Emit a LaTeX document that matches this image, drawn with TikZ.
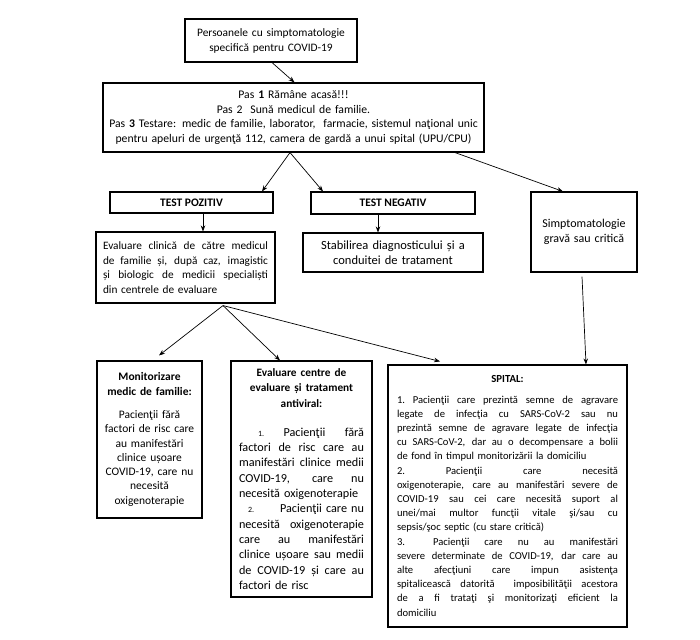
\documentclass[tikz,border=0pt]{standalone}
\usepackage{fontspec}
\setmainfont{Carlito}
\usetikzlibrary{arrows.meta}
\newcommand{\jl}[2]{\leavevmode\hbox to #1{\spaceskip=0.15em plus 1fil\xspaceskip=0.15em plus 1fil\relax #2}}
\tikzset{
  box/.style={draw, line width=1.1pt, inner sep=0pt, align=center},
  lbox/.style={draw, line width=1.1pt, inner sep=0pt, align=left},
  arr/.style={-{Stealth[length=6pt,width=4.5pt]}, line width=0.7pt},
}
\begin{document}
\begin{tikzpicture}[x=1pt,y=-1pt]
\useasboundingbox (0,0) rectangle (700,639);
\fill[white] (0,0) rectangle (700,639);

\node[box, minimum width=172pt, minimum height=43pt, text width=172pt,
  font=\fontsize{11.4}{15}\selectfont] (b1) at (271,40.5)
  {Persoanele cu simptomatologie\\specifică pentru COVID-19};

\node[box, minimum width=381pt, minimum height=69pt, text width=381pt,
  font=\fontsize{11.7}{14.8}\selectfont] (b2) at (293.5,117.5)
  {Pas \textbf{1} Rămâne acasă!!!\\Pas 2\ \ Sună medicul de familie.\\Pas \textbf{3} Testare: medic de familie, laborator,\ \ farmacie, sistemul naţional unic\\pentru apeluri de urgenţă 112, camera de gardă a unui spital (UPU/CPU)};

\node[box, minimum width=163pt, minimum height=21pt,
  font=\bfseries\fontsize{11.5}{12}\selectfont] (tp) at (191.5,202.5) {TEST POZITIV};
\node[box, minimum width=164pt, minimum height=22pt,
  font=\bfseries\fontsize{11.5}{12}\selectfont] (tn) at (393,203) {TEST NEGATIV};

\node[box, minimum width=106pt, minimum height=80pt, text width=106pt,
  font=\fontsize{12}{15}\selectfont] (sim) at (584,232)
  {Simptomatologie\\gravă sau critică};

\node[lbox, minimum width=179pt, minimum height=71pt, text width=165pt,
  font=\fontsize{11.3}{14.5}\selectfont] (ec) at (185.5,267.5)
  {\jl{165pt}{Evaluare clinică de către medicul}\\
   \jl{165pt}{de familie și, după caz, imagistic}\\
   \jl{165pt}{și biologic de medicii specialiști}\\
   din centrele de evaluare};

\node[box, minimum width=180pt, minimum height=39pt, text width=180pt,
  font=\fontsize{12.5}{14.5}\selectfont] (st) at (393,252.5)
  {Stabilirea diagnosticului și a\\conduitei de tratament};

\node[box, minimum width=105pt, minimum height=157pt, text width=105pt,
  font=\fontsize{11.5}{14.3}\selectfont] (mon) at (149.5,439.5)
  {\textbf{Monitorizare}\\\textbf{medic de familie:}\\[9pt]
   Pacienţii fără\\factori de risc care\\au manifestări\\clinice ușoare\\COVID-19, care nu\\necesită\\oxigenoterapie};

\node[lbox, minimum width=141pt, minimum height=236pt, text width=125pt,
  font=\fontsize{12.2}{15.3}\selectfont] (evc) at (301.5,479)
  {\makebox[125pt]{\bfseries\fontsize{11.3}{15.3}\selectfont Evaluare centre de}\\
   \makebox[125pt]{\bfseries\fontsize{11.3}{15.3}\selectfont evaluare și tratament}\\
   \makebox[125pt]{\bfseries\fontsize{11.3}{15.3}\selectfont antiviral:}\\[14pt]
   \leavevmode\hbox to 125pt{\hspace{19pt}{\footnotesize 1.}\hfill Pacienţii\hfill fără}\\
   \jl{125pt}{factori de risc care au}\\
   \jl{125pt}{manifestări clinice medii}\\
   \jl{125pt}{COVID-19, care nu}\\
   necesită oxigenoterapie\\
   \leavevmode\hbox to 125pt{\hspace{9pt}{\footnotesize 2.}\hfill Pacienţii care nu}\\
   \jl{125pt}{necesită oxigenoterapie}\\
   \jl{125pt}{care au manifestări}\\
   \jl{125pt}{clinice ușoare sau medii}\\
   \jl{125pt}{de COVID-19 și care au}\\
   factori de risc};

\node[lbox, minimum width=239pt, minimum height=262pt, text width=221pt,
  font=\fontsize{10.6}{14.2}\selectfont] (sp) at (507.5,496)
  {\makebox[221pt]{\bfseries\fontsize{10.8}{14.2}\selectfont SPITAL:}\\[6pt]
   \jl{221pt}{1. Pacienţii care prezintă semne de agravare}\\
   \jl{221pt}{legate de infecţia cu SARS-CoV-2 sau nu}\\
   \jl{221pt}{prezintă semne de agravare legate de infecţia}\\
   \jl{221pt}{cu SARS-CoV-2, dar au o decompensare a bolii}\\
   de fond în timpul monitorizării la domiciliu\\
   \jl{221pt}{2. Pacienţii care necesită}\\
   \jl{221pt}{oxigenoterapie, care au manifestări severe de}\\
   \jl{221pt}{COVID-19 sau cei care necesită suport al}\\
   \jl{221pt}{unei/mai multor funcţii vitale şi/sau cu}\\
   sepsis/şoc septic (cu stare critică)\\
   \jl{221pt}{3.\hspace{28pt}Pacienţii care nu au manifestări}\\
   \jl{221pt}{severe determinate de COVID-19, dar care au}\\
   \jl{221pt}{alte afecţiuni care impun asistenţa}\\
   \jl{221pt}{spitalicească datorită\ \ imposibilităţii acestora}\\
   \jl{221pt}{de a fi trataţi şi monitorizaţi eficient la}\\
   domiciliu};

\draw[arr] ([xshift=1pt]b1.south) -- ([xshift=1pt]b2.north);
\draw[arr] ([xshift=-3.5pt]b2.south) -- ([xshift=70.5pt]tp.north);
\draw[arr] ([xshift=-3.5pt]b2.south) -- ([xshift=-70pt]tn.north);
\draw[arr] ([xshift=161.5pt]b2.south) -- ([xshift=-21pt]sim.north);
\draw[arr] ([xshift=11.5pt]tp.south) -- ([xshift=17.5pt]ec.north);
\draw[arr] ([xshift=-15pt]tn.south) -- ([xshift=-15pt]st.north);
\draw[arr] ([xshift=37.5pt,yshift=-2pt]ec.south) -- ([xshift=9.5pt,yshift=5pt]mon.north);
\draw[arr] ([xshift=37.5pt,yshift=-2pt]ec.south) -- ([xshift=-21.5pt]evc.north);
\draw[arr] ([xshift=37.5pt,yshift=-2pt]ec.south) -- ([xshift=-67.5pt,yshift=3pt]sp.north);
\draw[arr] ([xshift=-2pt,yshift=-4pt]sim.south) -- ([xshift=78.5pt]sp.north);
\end{tikzpicture}
\end{document}
